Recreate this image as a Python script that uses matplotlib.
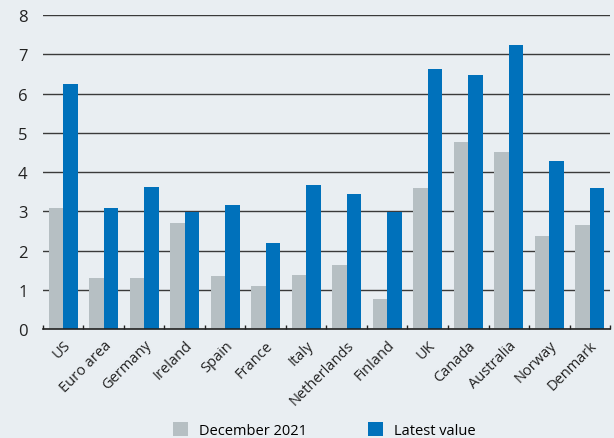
import numpy as np
import matplotlib.pyplot as plt

countries = ["US", "Euro area", "Germany", "Ireland", "Spain", "France", "Italy",
             "Netherlands", "Finland", "UK", "Canada", "Australia", "Norway", "Denmark"]
dec_2021 = [3.08, 1.29, 1.29, 2.70, 1.36, 1.09, 1.38, 1.63, 0.77, 3.59, 4.78, 4.51, 2.37, 2.65]
latest = [6.25, 3.08, 3.61, 2.99, 3.17, 2.18, 3.67, 3.44, 2.98, 6.64, 6.48, 7.24, 4.29, 3.59]

BG = "#e9eef2"
GREY = "#b6bfc3"
BLUE = "#0071bb"

plt.rcParams["font.family"] = ["Open Sans", "DejaVu Sans"]

fig = plt.figure(figsize=(6.14, 4.39), dpi=100, facecolor=BG)
ax = fig.add_axes([0.070, 0.2483, 0.9235, 0.7147], facecolor=BG)

x = np.arange(len(countries))
w = 0.36
ax.bar(x - w / 2, dec_2021, w, color=GREY, label="December 2021", zorder=3)
ax.bar(x + w / 2, latest, w, color=BLUE, label="Latest value", zorder=3)

ax.set_xlim(-0.5, len(countries) - 0.5)
ax.set_ylim(0, 8)
ax.set_yticks(range(0, 9))
ax.yaxis.grid(True, color="#3a3a3a", linewidth=1.0, zorder=1)
ax.tick_params(axis="y", length=0, labelsize=12, colors="#222222", pad=11)

# ticks at group boundaries, labels at group centres
ax.set_xticks(np.arange(len(countries) + 1) - 0.5)
ax.set_xticklabels([])
ax.set_xticks(x, minor=True)
ax.set_xticklabels(countries, minor=True, rotation=45, ha="right",
                   rotation_mode="anchor", fontsize=10.5, color="#222222")
ax.tick_params(axis="x", which="major", direction="in", length=3, width=1, color="#222222")
ax.tick_params(axis="x", which="minor", length=0, pad=6)

for s in ["left", "right", "top"]:
    ax.spines[s].set_visible(False)
ax.spines["bottom"].set_color("#222222")
ax.spines["bottom"].set_linewidth(1.2)
ax.spines["bottom"].set_zorder(4)

fig.legend(loc="lower center", bbox_to_anchor=(0.528, -0.03), ncol=2, frameon=False,
           fontsize=10.5, handlelength=1.0, handleheight=1.15, columnspacing=4.2,
           handletextpad=0.75)

fig.savefig("out.png", dpi=100, facecolor=BG)
